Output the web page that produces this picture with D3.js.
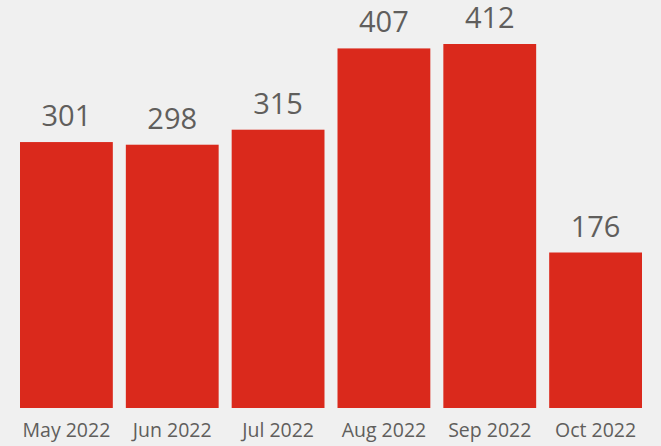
<!DOCTYPE html>
<html><head><meta charset="utf-8">
<script src="https://cdn.jsdelivr.net/npm/d3@7"></script>
<style>
html,body{margin:0;padding:0;background:#f0f0f0;}
svg{display:block;}
</style></head>
<body>
<svg id="chart" width="661" height="446"></svg>
<script>
const categories = ["May 2022","Jun 2022","Jul 2022","Aug 2022","Sep 2022","Oct 2022"];
const values = [301, 298, 315, 407, 412, 176];

const svg = d3.select("#chart");
const W = 661, H = 446;
const font = "'Open Sans', 'Noto Sans', sans-serif";

svg.append("rect").attr("width", W).attr("height", H).attr("fill", "#f0f0f0");

const x = d3.scaleBand().domain(categories).range([20, 642]).paddingInner(0.123).paddingOuter(0);
const y = d3.scaleLinear().domain([0, 412]).range([408, 44]);

svg.selectAll("rect.bar").data(values).join("rect")
  .attr("class", "bar")
  .attr("x", (d, i) => x(categories[i]))
  .attr("y", d => y(d))
  .attr("width", x.bandwidth())
  .attr("height", d => y(0) - y(d))
  .attr("fill", "#da291c");

svg.selectAll("text.val").data(values).join("text")
  .attr("class", "val")
  .attr("x", (d, i) => x(categories[i]) + x.bandwidth() / 2)
  .attr("y", d => y(d) - 16)
  .attr("text-anchor", "middle")
  .attr("font-family", font)
  .attr("font-size", 29)
  .attr("fill", "#605e5c")
  .text(d => d);

const xAxis = d3.axisBottom(x).tickSize(0).tickPadding(0);
const gx = svg.append("g").attr("transform", "translate(0,408)").call(xAxis);
gx.select(".domain").remove();
gx.selectAll("text")
  .attr("dy", null)
  .attr("y", 29)
  .attr("font-family", font)
  .attr("font-size", 19.5)
  .attr("fill", "#605e5c");
</script>
</body></html>
